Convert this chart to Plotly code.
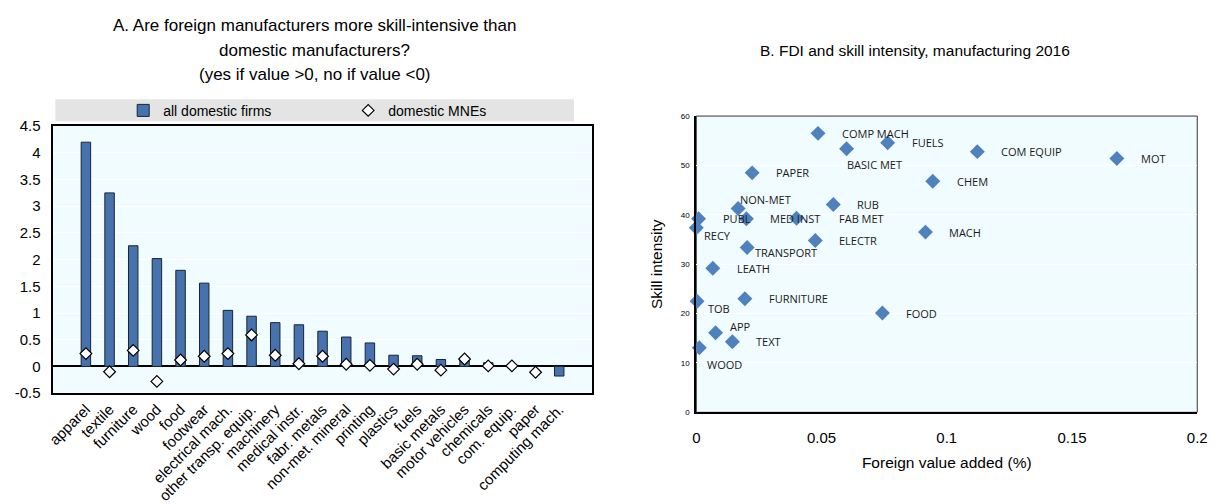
import plotly.graph_objects as go

# ---------------- Panel A data ----------------
categories = ["apparel", "textile", "furniture", "wood", "food", "footwear",
              "electrical mach.", "other transp. equip.", "machinery", "medical instr.",
              "fabr. metals", "non-met. mineral", "printing", "plastics", "fuels",
              "basic metals", "motor vehicles", "chemicals", "com. equip.", "paper",
              "computing mach."]
all_domestic = [4.20, 3.25, 2.26, 2.02, 1.80, 1.56, 1.05, 0.94, 0.82, 0.78, 0.66,
                0.55, 0.44, 0.21, 0.20, 0.13, 0.12, 0.07, 0.04, 0.0, -0.18]
domestic_mnes = [0.24, -0.10, 0.30, -0.28, 0.12, 0.19, 0.24, 0.59, 0.21, 0.05, 0.19,
                 0.04, 0.02, -0.05, 0.04, -0.07, 0.14, 0.01, 0.01, -0.11, None]
a_tickvals = [-0.5, 0, 0.5, 1, 1.5, 2, 2.5, 3, 3.5, 4, 4.5]
a_ticktext = [f"{v:g}" for v in a_tickvals]
title_a_lines = ["A. Are foreign manufacturers more skill-intensive than",
                 "domestic manufacturers?",
                 "(yes if value >0, no if value <0)"]

# ---------------- Panel B data ----------------
sectors = ["COMP MACH", "BASIC MET", "FUELS", "COM EQUIP", "MOT", "PAPER", "CHEM",
           "NON-MET", "RUB", "PUBL", "MED INST", "FAB MET", "RECY", "ELECTR", "MACH",
           "TRANSPORT", "LEATH", "FURNITURE", "TOB", "FOOD", "APP", "TEXT", "WOOD"]
foreign_va = [0.0486, 0.0600, 0.0764, 0.1122, 0.1679, 0.0223, 0.0944, 0.0167, 0.0547,
              0.0009, 0.0200, 0.0400, 0.0000, 0.0475, 0.0915, 0.0203, 0.0066, 0.0194,
              0.0003, 0.0743, 0.0077, 0.0144, 0.0012]
skill_intensity = [56.5, 53.4, 54.6, 52.8, 51.4, 48.5, 46.8, 41.3, 42.1, 39.2, 39.2,
                   39.3, 37.4, 34.8, 36.5, 33.4, 29.2, 23.0, 22.5, 20.1, 16.1, 14.3, 13.1]
title_b = "B. FDI and skill intensity, manufacturing 2016"

# label offsets in px (style only)
label_shift = {"BASIC MET": (-2, -16), "NON-MET": (0, 9), "RECY": (6, -8),
               "FAB MET": (41, 0), "TRANSPORT": (6, -5), "TOB": (9, -7),
               "APP": (12, 6), "WOOD": (6, -17)}

W, H = 1225, 504
NARROW = "Liberation Sans Narrow, Arial Narrow, Liberation Sans, Arial, sans-serif"
REG = "Liberation Sans, Arial, sans-serif"
BG = "#F0FCFF"

fig = go.Figure()

fig.add_trace(go.Bar(x=categories, y=all_domestic, name="all domestic firms",
                     marker=dict(color="#4672AD", line=dict(color="#1b2433", width=1)),
                     xaxis="x", yaxis="y"))
fig.add_trace(go.Scatter(x=categories, y=domestic_mnes, name="domestic MNEs",
                         mode="markers", cliponaxis=False,
                         marker=dict(symbol="diamond", size=9, color="white",
                                     line=dict(color="black", width=1.2)),
                         xaxis="x", yaxis="y"))

fig.add_trace(go.Scatter(x=foreign_va, y=skill_intensity, mode="markers",
                         showlegend=False, cliponaxis=False,
                         marker=dict(symbol="diamond", size=11.5, color="#4F81BD"),
                         xaxis="x2", yaxis="y2"))

annotations = []
for s, xv, yv in zip(sectors, foreign_va, skill_intensity):
    dx, dy = label_shift.get(s, (22, 0))
    annotations.append(dict(x=xv, y=yv, xref="x2", yref="y2", text=s, showarrow=False,
                            xanchor="left", yanchor="middle", xshift=dx, yshift=dy,
                            font=dict(family="Open Sans, Noto Sans, sans-serif", size=11, color="#1a1a1a")))

for line, ypx in zip(title_a_lines, [17, 43, 68]):
    annotations.append(dict(x=312 / W, y=1 - ypx / H, xref="paper", yref="paper",
                            text=line, showarrow=False, xanchor="center", yanchor="middle",
                            font=dict(family=REG, size=17, color="black")))
annotations.append(dict(x=921 / W, y=1 - 43 / H, xref="paper", yref="paper",
                        text=title_b, showarrow=False, xanchor="center", yanchor="middle",
                        font=dict(family=REG, size=15.5, color="black")))

shapes = [
    dict(type="rect", xref="paper", yref="paper", x0=49 / W, x1=575 / W,
         y0=1 - 117 / H, y1=1 - 94 / H, fillcolor="#E4E4E4", line=dict(width=0), layer="below"),
    dict(type="rect", xref="x2 domain", yref="y2 domain", x0=0, x1=1, y0=0, y1=1,
         line=dict(color="#333333", width=1), layer="below"),
]

fig.update_layout(
    width=W, height=H, margin=dict(l=0, r=0, t=0, b=0),
    paper_bgcolor="white", plot_bgcolor=BG,
    bargap=0.6,
    showlegend=True,
    legend=dict(orientation="h", x=346 / W, y=1 - 106 / H, xanchor="center", yanchor="middle",
                bgcolor="rgba(0,0,0,0)", font=dict(family=NARROW, size=14, color="black"),
                entrywidth=180, itemwidth=30),
    xaxis=dict(domain=[47 / W, 593 / W], anchor="y", tickangle=-45,
               tickfont=dict(family=NARROW, size=15, color="black"),
               showline=True, linecolor="black", linewidth=1.5, mirror=True,
               ticks="", showgrid=False),
    yaxis=dict(domain=[1 - 400 / H, 1 - 122 / H], anchor="x", range=[-0.5, 4.5],
               tickvals=a_tickvals, ticktext=a_ticktext, ticklabelstandoff=8,
               tickfont=dict(family=NARROW, size=15, color="black"),
               showline=True, linecolor="black", linewidth=1.5, mirror=True,
               gridcolor="white", gridwidth=1, zeroline=True, zerolinecolor="black",
               zerolinewidth=1.5, ticks=""),
    xaxis2=dict(domain=[699 / W, 1207 / W], anchor="y2", range=[0, 0.2], dtick=0.05,
                tickfont=dict(family=NARROW, size=15, color="black"), ticklabelstandoff=11,
                showline=True, linecolor="black", linewidth=2, showgrid=False,
                zeroline=False, ticks="",
                title=dict(text="Foreign value added (%)", font=dict(family=NARROW, size=15.5, color="black"),
                           standoff=12)),
    yaxis2=dict(domain=[1 - 420 / H, 1 - 111.5 / H], anchor="x2", range=[0, 60], dtick=10,
                tickfont=dict(family=NARROW, size=8, color="black"), ticklabelstandoff=3,
                showline=True, linecolor="black", linewidth=2, gridcolor="white",
                zeroline=False, ticks="",
                title=dict(text="Skill intensity", font=dict(family=NARROW, size=15.5, color="black"),
                           standoff=14)),
    annotations=annotations, shapes=shapes,
)

fig.write_html("out.html")
